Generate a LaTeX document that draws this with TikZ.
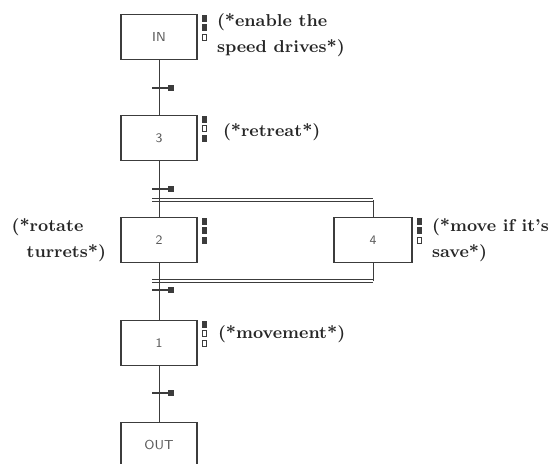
\documentclass[tikz,border=0pt]{standalone}
\usepackage{xcolor}
\usepackage{tikz}
\usetikzlibrary{positioning}
\definecolor{gline}{HTML}{3C3C3C}
\definecolor{gtext}{HTML}{5A5A5A}
\tikzset{
  gstep/.style={draw=gline, line width=0.6pt, minimum width=38pt, minimum height=22.5pt,
                inner sep=0pt, font=\fontsize{6.5}{7}\selectfont\sffamily, text=gtext},
  glink/.style={gline, line width=0.5pt},
  gpar/.style={gline, line width=0.45pt, double=white, double distance=1.1pt},
  gbar/.style={gline, line width=1.1pt},
  gtick/.style={fill=gline, minimum size=3pt, inner sep=0pt},
  gon/.style={draw=gline, fill=gline, line width=0.4pt, minimum width=2pt,
              minimum height=3pt, inner sep=0pt},
  goff/.style={gon, fill=white},
  glbl/.style={font=\fontsize{8.6}{13}\selectfont\bfseries, text=black!85,
               align=left, inner sep=0pt},
}

\begin{document}
\begin{tikzpicture}[x=0.5pt,y=-0.5pt]
  \useasboundingbox (0,0) rectangle (552,463);

  % steps
  \node[gstep] (in) at (159,37)  {IN};
  \node[gstep] (s3) at (159,138) {3};
  \node[gstep] (s2) at (159,240) {2};
  \node[gstep, minimum width=39pt] (s4) at (373,240) {4};
  \node[gstep] (s1) at (159,343) {1};
  \node[gstep] (out) at (159,445) {OUT};

  % simultaneous branches
  \coordinate (d1) at (152,200);
  \coordinate (d2) at (373,200);
  \coordinate (j1) at (152,281);
  \coordinate (j2) at (373,281);
  \draw[gpar] (d1) -- (d2);
  \draw[gpar] (j1) -- (j2);
  \draw[glink] (d2) -- (s4.north);
  \draw[glink] (s4.south) -- (j2);

  % links
  \draw[glink] (in) -- (s3);
  \draw[glink] (s3) -- (s2);
  \draw[glink] (s2) -- (s1);
  \draw[glink] (s1) -- (out);

  % transitions
  \foreach \t/\y in {t1/88, t2/189, t3/290, t4/393}
  {
    \draw[gbar] (152,\y) -- (168,\y);
    \node[gtick] (\t) at (171,\y) {};
  }

  % action indicators
  \foreach \s/\a/\b/\c in {in/gon/gon/goff, s3/gon/goff/gon, s2/gon/gon/gon,
                           s4/gon/gon/goff, s1/gon/goff/goff}
  {
    \node[\a] (\s-a) at ([xshift=3.5pt,yshift=-2pt]\s.north east) {};
    \node[\b, below=1.5pt of \s-a] (\s-b) {};
    \node[\c, below=1.5pt of \s-b] (\s-c) {};
  }

  % comments
  \node[glbl, right=9.5pt of in, yshift=1pt] (in-l) {(*enable the\\speed drives*)};
  \node[glbl, right=12.5pt of s3, yshift=3pt] (s3-l) {(*retreat*)};
  \node[glbl, left=7pt of s2] (s2-l) {(*rotate\\\hspace*{7.5pt}turrets*)};
  \node[glbl, right=9.5pt of s4] (s4-l) {(*move if it's\\save*)};
  \node[glbl, right=10pt of s1, yshift=4.5pt] (s1-l) {(*movement*)};

\end{tikzpicture}
\end{document}
